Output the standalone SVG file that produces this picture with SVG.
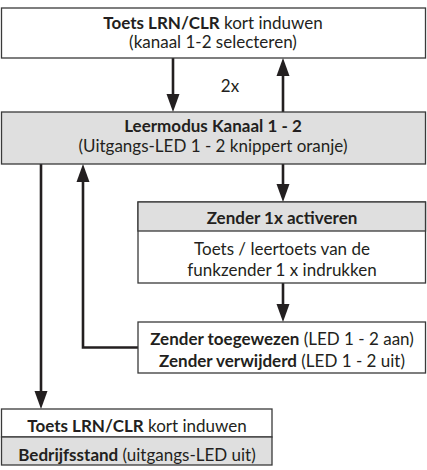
<svg xmlns="http://www.w3.org/2000/svg" width="427" height="470" viewBox="0 0 427 470">
<style>
  .box { stroke: #3a3a3a; stroke-width: 1.3; }
  .white { fill: #ffffff; }
  .gray { fill: #dfdfdf; }
  text { font-family: Lato, "Open Sans", sans-serif; font-size: 17px; fill: #231f20; text-anchor: middle; }
  .b { font-weight: bold; }
  .conn { stroke: #231f20; stroke-width: 2.6; fill: none; marker-end: url(#ah); }
</style>
<defs>
  <marker id="ah" markerUnits="userSpaceOnUse" markerWidth="18" markerHeight="14" refX="10" refY="7" orient="auto">
    <path d="M0,0.5 L18,7 L0,13.5 z" fill="#231f20"/>
  </marker>
</defs>
<rect width="427" height="470" fill="#ffffff"/>

<g id="connectors">
  <line class="conn" x1="173" y1="58" x2="173" y2="104"/>
  <line class="conn" x1="283" y1="112" x2="283" y2="66"/>
  <line class="conn" x1="283" y1="164" x2="283" y2="194"/>
  <line class="conn" x1="283" y1="283" x2="283" y2="314"/>
  <path class="conn" d="M138,347.5 H83 V172"/>
  <line class="conn" x1="41" y1="164" x2="41" y2="401"/>
  <text x="230" y="92">2x</text>
</g>

<g id="node-top">
  <rect class="box white" x="1.5" y="8" width="424" height="50"/>
  <text x="213" y="29"><tspan class="b">Toets LRN/CLR</tspan> kort induwen</text>
  <text x="213" y="48">(kanaal 1-2 selecteren)</text>
</g>

<g id="node-leermodus">
  <rect class="box gray" x="1.5" y="112" width="424" height="52"/>
  <text x="213" y="132" class="b">Leermodus Kanaal 1 - 2</text>
  <text x="213" y="152">(Uitgangs-LED 1 - 2 knippert oranje)</text>
</g>

<g id="node-zender">
  <rect class="box white" x="138" y="202" width="287.5" height="81"/>
  <rect class="box gray" x="138" y="202" width="287.5" height="29"/>
  <text x="282" y="224" class="b">Zender 1x activeren</text>
  <text x="282" y="255">Toets / leertoets van de</text>
  <text x="282" y="276">funkzender 1 x indrukken</text>
</g>

<g id="node-status">
  <rect class="box white" x="138" y="322" width="287.5" height="51"/>
  <text x="282" y="345"><tspan class="b">Zender toegewezen</tspan> (LED 1 - 2 aan)</text>
  <text x="282" y="367"><tspan class="b">Zender verwijderd</tspan> (LED 1 - 2 uit)</text>
</g>

<g id="node-bottom">
  <rect class="box white" x="1.5" y="409" width="270.5" height="28"/>
  <rect class="box gray" x="1.5" y="437" width="270.5" height="28"/>
  <text x="137" y="432"><tspan class="b">Toets LRN/CLR</tspan> kort induwen</text>
  <text x="137" y="461"><tspan class="b">Bedrijfsstand</tspan> (uitgangs-LED uit)</text>
</g>
</svg>
